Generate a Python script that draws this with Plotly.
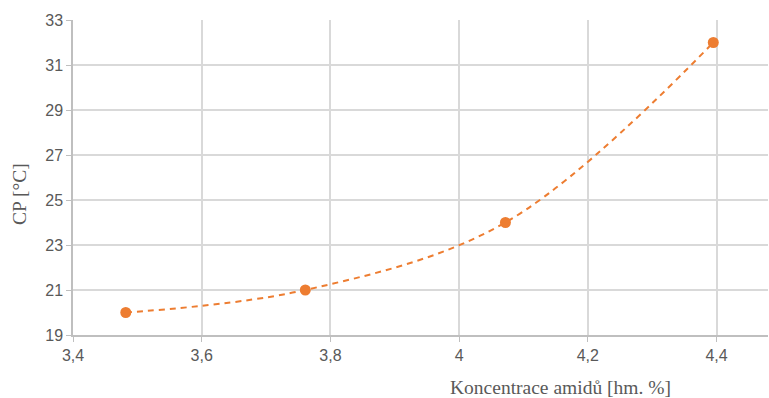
import plotly.graph_objects as go

# Measured cloud point vs. amide concentration
koncentrace = [3.482, 3.761, 4.072, 4.395]
cp = [20, 21, 24, 32]

x_ticks = [3.4, 3.6, 3.8, 4.0, 4.2, 4.4]
y_ticks = [19, 21, 23, 25, 27, 29, 31, 33]

ORANGE = "#ED7D31"

fig = go.Figure()
# Smoothed dashed line through the measurements, with markers on top
fig.add_trace(go.Scatter(x=koncentrace, y=cp, mode="lines",
                         line=dict(color=ORANGE, width=2, dash="6px,5px",
                                   shape="spline", smoothing=1),
                         hoverinfo="skip", showlegend=False))
fig.add_trace(go.Scatter(x=koncentrace, y=cp, mode="markers",
                         marker=dict(color=ORANGE, size=11),
                         showlegend=False))

tick_font = dict(family="Liberation Sans, Arial, sans-serif", size=16, color="#595959")
title_font = dict(family="Liberation Serif, Times New Roman, serif", size=19.5, color="#595959")

fig.update_layout(
    width=769, height=398,
    margin=dict(l=73, r=1, t=20, b=63),
    paper_bgcolor="white", plot_bgcolor="white",
    separators=", ",
    xaxis=dict(range=[3.4, 4.48], tickvals=x_ticks,
               ticktext=[f"{v:g}".replace(".", ",") for v in x_ticks],
               showgrid=True, gridcolor="#d9d9d9", gridwidth=1.5,
               showline=True, linecolor="#bfbfbf", linewidth=1.5,
               ticks="outside", ticklen=5, tickcolor="#bfbfbf",
               tickfont=tick_font, zeroline=False),
    yaxis=dict(range=[19, 33], tickvals=y_ticks,
               showgrid=True, gridcolor="#d9d9d9", gridwidth=1.5,
               showline=True, linecolor="#bfbfbf", linewidth=1.5,
               ticks="outside", ticklen=5, tickcolor="#bfbfbf",
               tickfont=tick_font, zeroline=False),
    annotations=[
        dict(text="Koncentrace amidů [hm. %]", xref="paper", yref="paper",
             x=0.702, y=-0.166, xanchor="center", yanchor="middle",
             showarrow=False, font=title_font),
        dict(text="CP [°C]", xref="paper", yref="paper",
             x=-0.076, y=0.448, xanchor="center", yanchor="middle",
             textangle=-90, showarrow=False, font=title_font),
    ],
)

fig.write_html("out.html")
